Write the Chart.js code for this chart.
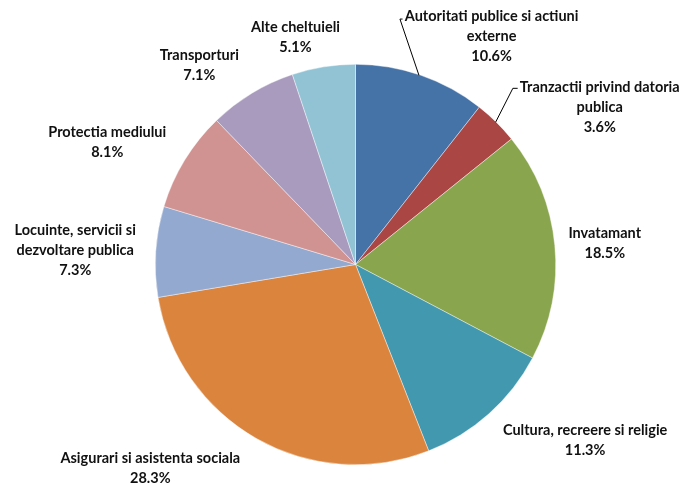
<!DOCTYPE html>
<html>
<head>
<meta charset="utf-8">
<script src="https://cdn.jsdelivr.net/npm/chart.js@4/dist/chart.umd.min.js"></script>
<style>
	html, body { margin: 0; padding: 0; background: #fff; }
	#wrap { width: 686px; height: 483px; position: relative; }
</style>
</head>
<body>
<div id="wrap"><canvas id="pie"></canvas></div>
<script>

// categories (each label split in lines as in the picture)
var categories = [
	["Autoritati publice si actiuni", "externe"],
	["Tranzactii privind datoria", "publica"],
	["Invatamant"],
	["Cultura, recreere si religie"],
	["Asigurari si asistenta sociala"],
	["Locuinte, servicii si", "dezvoltare publica"],
	["Protectia mediului"],
	["Transporturi"],
	["Alte cheltuieli"]
];

// share of total spending, %
var shares = [10.6, 3.6, 18.5, 11.3, 28.3, 7.3, 8.1, 7.1, 5.1];

var colors = ["#4572A7", "#AA4643", "#89A54E", "#4198AF", "#DB843D",
	"#93A9CF", "#D19392", "#A99BBD", "#92C3D5"];

// where each label block is centred, as offset from pie centre in radii
var labelOffsets = [
	[0.68, -1.14], [1.22, -0.785], [1.245, -0.105], [1.147, 0.88], [-1.025, 1.018],
	[-1.40, -0.073], [-1.24, -0.612], [-0.78, -0.995], [-0.30, -1.135]
];

// leader lines for the two labels that have one (points as radius offsets)
var leaders = [
	[[0.317, -0.945], [0.222, -1.226], [0.235, -1.226]],
	[[0.70, -0.711], [0.786, -0.88], [0.81, -0.88]]
];

var labelPlugin = {
	id: 'pieLabels',
	afterDatasetsDraw: function(chart) {
		var ctx = chart.ctx;
		var arcs = chart.getDatasetMeta(0).data;
		if (!arcs.length) return;
		var cx = arcs[0].x, cy = arcs[0].y, r = arcs[0].outerRadius;

		ctx.save();
		ctx.strokeStyle = "#000";
		ctx.lineWidth = 1;
		leaders.forEach(function(pts) {
			ctx.beginPath();
			pts.forEach(function(p, i) {
				var x = cx + p[0] * r, y = cy + p[1] * r;
				if (i === 0) ctx.moveTo(x, y); else ctx.lineTo(x, y);
			});
			ctx.stroke();
		});

		ctx.fillStyle = "#111";
		ctx.font = "bold 14.5px Lato";
		ctx.textAlign = "center";
		ctx.textBaseline = "middle";
		var lineH = 20;
		categories.forEach(function(lines, i) {
			var all = lines.concat([shares[i].toFixed(1) + "%"]);
			var x = cx + labelOffsets[i][0] * r;
			var y0 = cy + labelOffsets[i][1] * r - (all.length - 1) * lineH / 2;
			all.forEach(function(t, k) {
				ctx.fillText(t, x, y0 + k * lineH);
			});
		});
		ctx.restore();
	}
};

var chart = new Chart(document.getElementById("pie").getContext("2d"), {
	type: 'pie',
	data: {
		labels: categories.map(function(c) { return c.join(" "); }),
		datasets: [{
			data: shares,
			backgroundColor: colors,
			borderColor: "rgba(255,255,255,0.7)",
			borderWidth: 0.6
		}]
	},
	options: {
		responsive: true,
		maintainAspectRatio: false,
		animation: false,
		layout: { padding: { top: 64, bottom: 18, left: 155, right: 130 } },
		plugins: {
			legend: { display: false },
			tooltip: { enabled: false }
		}
	},
	plugins: [labelPlugin]
});

</script>
</body>
</html>
